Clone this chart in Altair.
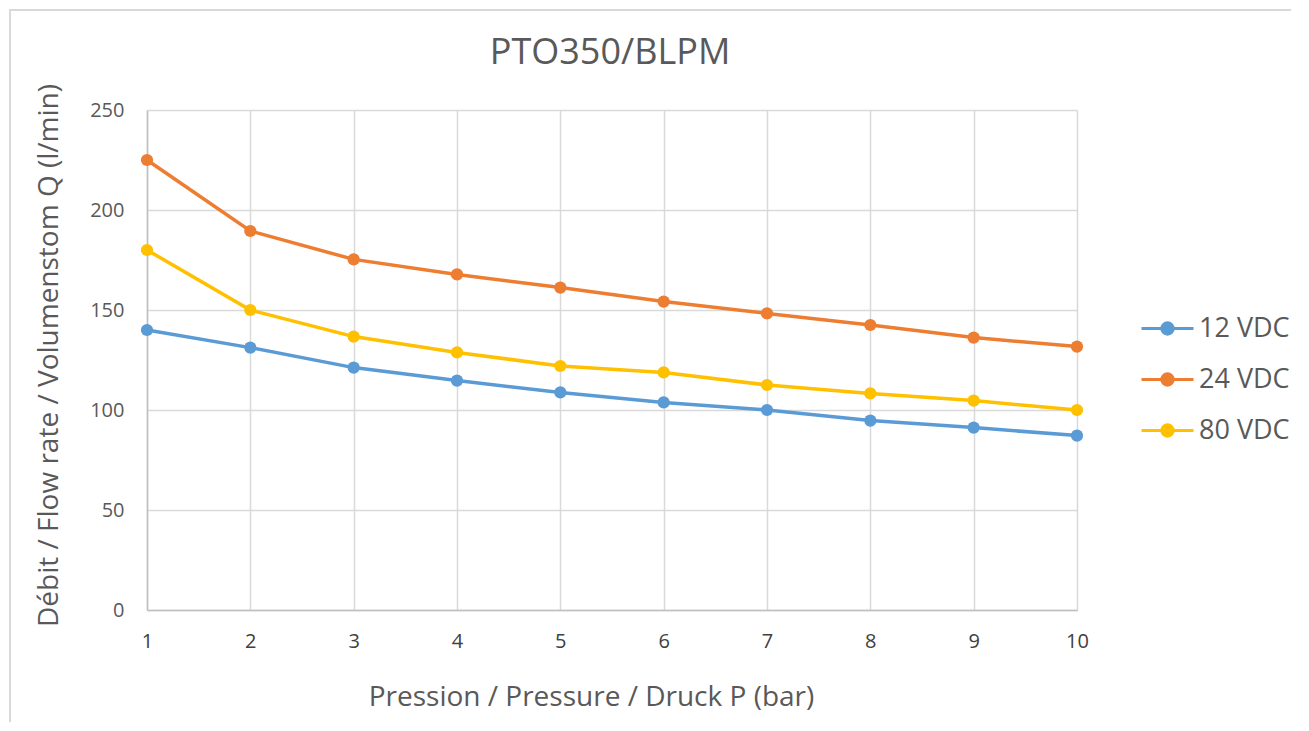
import altair as alt
import pandas as pd

pressure = [1, 2, 3, 4, 5, 6, 7, 8, 9, 10]
series_names = ["12 VDC", "24 VDC", "80 VDC"]
flow_12 = [140, 131.2, 121.2, 114.7, 108.8, 103.8, 100, 94.7, 91.2, 87.2]
flow_24 = [225, 189.5, 175.3, 167.8, 161.2, 154.2, 148.3, 142.5, 136.2, 131.7]
flow_80 = [180, 150, 136.7, 128.8, 122, 118.8, 112.5, 108.3, 104.7, 100]
colors = ["#5b9bd5", "#ed7d31", "#ffc000"]
y_ticks = [0, 50, 100, 150, 200, 250]

rows = []
for name, vals in zip(series_names, [flow_12, flow_24, flow_80]):
    for p, v in zip(pressure, vals):
        rows.append({"P": p, "Q": v, "Serie": name})
df = pd.DataFrame(rows)

FONT = "Open Sans"

legend = alt.Legend(
    title=None, orient="none", legendX=993, legendY=191,
    symbolType="M-1,0L1,0M0.22,0A0.22,0.22,0,1,1,-0.22,0A0.22,0.22,0,1,1,0.22,0Z",
    symbolSize=2704, symbolStrokeWidth=3, labelFont=FONT, labelFontSize=27,
    labelColor="#595959", labelOffset=4, padding=0,
)

color = alt.Color("Serie:N", scale=alt.Scale(domain=series_names, range=colors), legend=legend)

x = alt.X("P:Q", scale=alt.Scale(domain=[1, 10], nice=False),
          axis=alt.Axis(values=pressure, title="Pression / Pressure / Druck P (bar)",
                        labelColor="#404040", labelPadding=21, labelBaseline="top",
                        labelFlush=False,
                        titleX=444, titleY=95, titleBaseline="alphabetic", titleAlign="center"))
y = alt.Y("Q:Q", scale=alt.Scale(domain=[0, 250], nice=False),
          axis=alt.Axis(values=y_ticks, title="Débit / Flow rate / Volumenstom Q (l/min)",
                        labelColor="#595959", labelPadding=23,
                        titleX=-90, titleY=245, titleAngle=-90, titleBaseline="alphabetic",
                        titleAlign="center"))

base = alt.Chart(df)
lines = base.mark_line(strokeWidth=3.5).encode(x=x, y=y, color=color, order="P:Q")
points = base.mark_point(filled=True, size=150, opacity=1).encode(x=x, y=y, color=color)

border = alt.Chart(pd.DataFrame({"a": [0]})).mark_rect(
    fill=None, stroke="#d9d9d9", strokeWidth=2, clip=False
).encode(x=alt.value(-137), x2=alt.value(1152), y=alt.value(-100), y2=alt.value(640))

chart = alt.layer(border, lines, points).properties(
    width=930, height=500,
    autosize=alt.AutoSizeParams(type="none"),
    padding={"left": 139, "top": 102, "right": 214, "bottom": 112},
    title=alt.TitleParams("PTO350/BLPM", font=FONT, fontSize=36, color="#595959",
                          fontWeight="normal", anchor="middle", baseline="alphabetic",
                          offset=-91, frame="group", dx=-2),
).configure_view(stroke=None).configure_axis(
    grid=True, gridColor="#d9d9d9", gridWidth=1.5, domainColor="#bfbfbf", domainWidth=1.5,
    ticks=False, labelFont=FONT, labelFontSize=20, titleFont=FONT, titleFontSize=28,
    titleColor="#595959", titleFontWeight="normal",
).configure_legend(rowPadding=10)

chart.save("out.html", embed_options={"renderer": "svg", "actions": False})
